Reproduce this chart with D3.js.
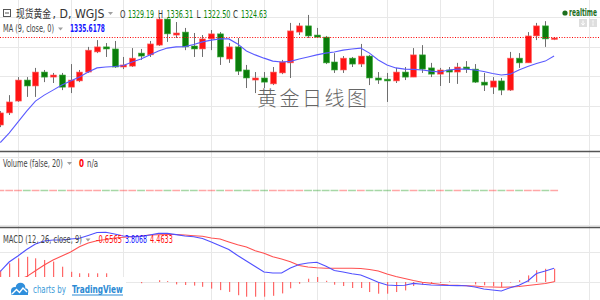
<!DOCTYPE html>
<html lang="en">
  <head>
    <meta charset="UTF-8" />
    <script src="https://cdn.jsdelivr.net/npm/d3@7"></script>
    <style>
      body { margin: 0; background: #fff; }
      svg text { font-family: "Liberation Sans Narrow", "DejaVu Sans Condensed", "Liberation Sans", "Noto Sans CJK SC", sans-serif; }
    </style>
  </head>
  <body>
    <div id="fig"></div>
    <script>
      const width = 600, height = 300;

      // daily candles
      const open = [1303.5, 1307.6, 1311.6, 1318.7, 1316.7, 1321.4, 1319.7, 1320.4, 1316.3, 1318.4,
        1321.4, 1328.2, 1329.9, 1329.2, 1323.1, 1323.4, 1327.8, 1327.2, 1330.5, 1339.3,
        1333.9, 1334.9, 1330.2, 1329.2, 1332.6, 1334.3, 1325.8, 1329.9, 1322.1, 1318.7,
        1319.4, 1317.4, 1321.1, 1324.5, 1334.9, 1337.0, 1333.9, 1333.2, 1324.8, 1322.1,
        1326.1, 1324.1, 1326.8, 1319.4, 1319.0, 1318.4, 1321.4, 1319.7, 1327.2, 1322.8,
        1320.7, 1322.1, 1321.4, 1323.1, 1322.4, 1318.0, 1316.3, 1318.4, 1315.3, 1326.1,
        1324.5, 1333.6, 1337.0, 1332.6];
      const high = [1308.2, 1313.6, 1319.7, 1319.7, 1322.8, 1322.1, 1321.1, 1321.1, 1324.1, 1322.1,
        1329.9, 1332.2, 1331.2, 1331.9, 1326.5, 1329.5, 1329.2, 1331.9, 1340.0, 1339.6,
        1338.3, 1336.3, 1334.6, 1333.9, 1335.6, 1334.9, 1331.2, 1332.9, 1323.8, 1321.4,
        1321.4, 1323.1, 1325.5, 1338.0, 1338.0, 1340.7, 1336.3, 1333.6, 1327.8, 1326.8,
        1326.5, 1330.9, 1327.2, 1321.4, 1321.1, 1322.8, 1323.1, 1329.5, 1330.5, 1324.5,
        1322.8, 1323.1, 1324.5, 1325.1, 1324.1, 1321.1, 1319.7, 1319.4, 1328.2, 1327.8,
        1334.9, 1338.0, 1338.6, 1333.2];
      const low = [1302.8, 1306.9, 1311.3, 1313.0, 1313.0, 1318.0, 1317.7, 1315.3, 1314.3, 1318.0,
        1321.1, 1327.8, 1326.5, 1322.8, 1322.4, 1323.1, 1325.5, 1326.5, 1330.2, 1331.6,
        1332.9, 1328.8, 1326.5, 1326.5, 1328.8, 1323.8, 1324.5, 1320.4, 1316.0, 1314.3,
        1316.0, 1317.0, 1320.7, 1319.4, 1333.9, 1332.9, 1333.2, 1324.1, 1321.1, 1321.1,
        1323.1, 1323.1, 1317.0, 1317.4, 1311.3, 1317.7, 1318.7, 1319.7, 1321.1, 1319.7,
        1316.7, 1317.7, 1317.4, 1321.1, 1317.7, 1315.0, 1314.0, 1313.6, 1315.0, 1322.8,
        1324.5, 1332.2, 1329.9, 1332.2];
      const close = [1307.6, 1311.3, 1318.7, 1316.7, 1321.4, 1319.7, 1320.4, 1316.3, 1318.7, 1321.4,
        1328.8, 1329.9, 1329.2, 1323.1, 1323.8, 1326.1, 1326.8, 1330.9, 1339.3, 1334.3,
        1334.6, 1329.9, 1329.2, 1332.6, 1334.3, 1326.5, 1329.9, 1321.7, 1319.4, 1319.4,
        1318.0, 1321.4, 1324.8, 1335.3, 1337.0, 1333.6, 1333.2, 1324.5, 1322.1, 1326.1,
        1324.1, 1326.8, 1319.4, 1318.7, 1318.4, 1321.4, 1319.7, 1327.2, 1322.4, 1320.7,
        1322.1, 1321.4, 1323.1, 1322.4, 1318.0, 1317.0, 1318.4, 1315.3, 1326.1, 1324.5,
        1333.6, 1337.0, 1332.6, 1332.9];

      // MA (9) as drawn
      const ma9 = [1297.6, 1300.8, 1304.5, 1308.2, 1311.6, 1313.6, 1315.3, 1317.0, 1318.4, 1319.7,
        1321.4, 1322.8, 1323.1, 1323.3, 1323.6, 1324.8, 1325.8, 1327.2, 1328.5, 1329.5,
        1329.9, 1330.0, 1330.7, 1331.6, 1332.2, 1332.6, 1332.6, 1330.9, 1328.5, 1327.2,
        1326.1, 1325.1, 1324.8, 1325.0, 1325.8, 1326.5, 1327.2, 1327.8, 1328.2, 1328.8,
        1329.2, 1329.5, 1327.8, 1325.5, 1323.8, 1322.8, 1322.4, 1322.3, 1322.1, 1321.7,
        1321.4, 1322.1, 1322.4, 1322.4, 1322.1, 1321.6, 1320.9, 1320.4, 1320.7, 1322.1,
        1323.3, 1324.3, 1325.1, 1326.8];

      // volume is n/a -> zero everywhere
      const volume = [0, 0, 0, 0, 0, 0, 0, 0, 0, 0, 0, 0, 0, 0, 0, 0, 0, 0, 0, 0, 0, 0,
        0, 0, 0, 0, 0, 0, 0, 0, 0, 0, 0, 0, 0, 0, 0, 0, 0, 0, 0, 0, 0, 0,
        0, 0, 0, 0, 0, 0, 0, 0, 0, 0, 0, 0, 0, 0, 0, 0, 0, 0, 0, 0];

      // MACD (12, 26, 9)
      const macdLine = [1.75, 3.33, 4.33, 5.42, 6.33, 6.83, 7.0, 7.0, 7.17, 7.28,
        7.75, 8.25, 8.28, 8.0, 7.67, 7.55, 7.58, 7.83, 8.1, 8.1,
        7.9, 7.67, 7.55, 7.25, 6.67, 6.05, 5.42, 4.42, 3.5, 2.58,
        1.67, 1.5, 1.5, 2.33, 2.92, 3.17, 3.28, 2.67, 1.92, 1.67,
        1.37, 1.17, 0.58, -0.03, -0.5, -0.58, -0.55, -0.23, -0.38, -0.5,
        -0.55, -0.58, -0.6, -0.62, -0.83, -1.17, -1.33, -1.5, -0.95, -0.55,
        0.17, 1.42, 1.83, 2.28];
      const signalLine = [-1.2, -0.4, 0.3, 0.9, 1.87, 2.83, 3.67, 4.33, 5.0, 5.88,
        6.5, 6.88, 7.08, 7.33, 7.45, 7.55, 7.67, 7.83, 7.88, 7.92,
        7.92, 7.83, 7.72, 7.62, 7.33, 7.17, 6.67, 6.2, 5.83, 5.2,
        4.78, 4.22, 3.83, 3.38, 2.75, 2.5, 2.37, 2.3, 2.28, 2.28,
        2.28, 2.25, 2.08, 1.83, 1.33, 0.92, 0.58, 0.25, -0.03, -0.22,
        -0.38, -0.5, -0.55, -0.62, -0.67, -0.8, -0.83, -0.88, -0.83, -0.75,
        -0.58, -0.42, -0.25, 0.05];
      const macdHist = [1.9, 3.1, 3.95, 4.2, 3.95, 3.67, 3.4, 2.55, 1.7, 1.45,
        1.45, 1.45, 1.45, 0.6, 0.1, 0, -0.2, 0, 0.3, 0.15,
        -0.4, -0.5, -0.6, -0.8, -1.1, -1.35, -1.65, -2.2, -2.45, -2.45,
        -2.45, -2.3, -1.9, -1.05, -0.3, 0.55, 0.83, 0.2, -0.45, -0.67,
        -1.0, -1.0, -1.67, -1.95, -1.95, -1.67, -1.4, -0.67, -0.45, -0.3,
        -0.15, 0.1, 0, 0, -0.4, -0.55, -0.67, -0.83, -0.1, 0.3,
        1.1, 1.95, 2.2, 2.2];

      // grid positions (bar index of the time ticks, price / indicator levels)
      const gridDays = [2, 8, 14, 24, 30, 36, 44, 50, 56, 67];
      const priceTicks = [1300, 1310, 1320, 1330, 1340];
      const volTicks = [-1, 1];
      const macdTicks = [0, 5];

      const upColor = "#ff1414", downColor = "#0b7d0b";

      const svg = d3.select("#fig").append("svg")
        .attr("width", width).attr("height", height)
        .style("display", "block");

      const xScale = d3.scaleLinear().domain([0, 67]).range([0.3, 0.3 + 8.79 * 67]);
      const priceY = d3.scaleLinear().domain([1300, 1340]).range([135.4, 17]);
      const volY = d3.scaleLinear().domain([-1, 1]).range([224.5, 156.5]);
      const macdY = d3.scaleLinear().domain([0, 5]).range([282, 252]);

      const panes = { main: [0, 151], vol: [152, 227], macd: [228, 300] };

      const defs = svg.append("defs");
      Object.entries(panes).forEach(([k, [y0, y1]]) => {
        defs.append("clipPath").attr("id", "clip-" + k)
          .append("rect").attr("x", 0).attr("y", y0).attr("width", width).attr("height", y1 - y0);
      });

      // grid
      const grid = svg.append("g").attr("stroke", "#e8e8e8").attr("stroke-width", 1);
      grid.selectAll(".vgrid").data(gridDays).join("line")
        .attr("x1", (d) => Math.round(xScale(d)) + 0.5).attr("x2", (d) => Math.round(xScale(d)) + 0.5)
        .attr("y1", 0).attr("y2", height);
      const hline = (g, data, sc) => g.selectAll(null).data(data).join("line")
        .attr("x1", 0).attr("x2", width)
        .attr("y1", (d) => Math.round(sc(d)) + 0.5).attr("y2", (d) => Math.round(sc(d)) + 0.5);
      hline(grid, priceTicks, priceY);
      hline(grid, volTicks, volY);
      hline(grid, macdTicks, macdY);

      // ---- main pane
      const mainG = svg.append("g").attr("clip-path", "url(#clip-main)");
      const candles = open.map((o, i) => ({ i, o, h: high[i], l: low[i], c: close[i], up: close[i] >= o }));

      mainG.append("g").selectAll("line").data(candles).join("line")
        .attr("x1", (d) => Math.round(xScale(d.i)) + 0.5).attr("x2", (d) => Math.round(xScale(d.i)) + 0.5)
        .attr("y1", (d) => priceY(d.h)).attr("y2", (d) => priceY(d.l))
        .attr("stroke", "#6e6e6e").attr("stroke-width", 1);

      mainG.append("g").selectAll("rect").data(candles).join("rect")
        .attr("x", (d) => Math.round(xScale(d.i)) - 2.5)
        .attr("width", 6)
        .attr("y", (d) => priceY(Math.max(d.o, d.c)))
        .attr("height", (d) => Math.max(1.5, Math.abs(priceY(d.o) - priceY(d.c))))
        .attr("fill", (d) => (d.up ? upColor : downColor))
        .attr("stroke", (d) => (d.up ? "#ff6a6a" : "#3fae3f"))
        .attr("stroke-width", 0.6);

      mainG.append("path").datum(ma9)
        .attr("d", d3.line().x((d, i) => xScale(i)).y((d) => priceY(d)))
        .attr("fill", "none").attr("stroke", "#5a5aff").attr("stroke-width", 1.1);

      // last price line
      mainG.append("line")
        .attr("x1", 0).attr("x2", width)
        .attr("y1", Math.round(priceY(close[close.length - 1])) - 0.5)
        .attr("y2", Math.round(priceY(close[close.length - 1])) - 0.5)
        .attr("stroke", "#ff0000").attr("stroke-width", 1).attr("stroke-dasharray", "1,1.6");

      // watermark
      svg.append("text").text("黄金日线图")
        .attr("x", 257).attr("y", 106)
        .attr("textLength", 110).attr("lengthAdjust", "spacing")
        .style("font-family", "'Noto Sans CJK SC'")
        .style("font-weight", 200)
        .style("font-size", "20px").attr("fill", "#666");

      // ---- volume pane
      const volG = svg.append("g").attr("clip-path", "url(#clip-vol)");
      volG.selectAll("rect").data(volume).join("rect")
        .attr("x", (d, i) => xScale(i) - 3.8)
        .attr("width", 7.8)
        .attr("y", (d) => Math.min(volY(d), volY(0)) - 0.75)
        .attr("height", (d) => Math.max(1.5, Math.abs(volY(d) - volY(0))))
        .attr("fill", (d, i) => (candles[i].up ? "rgba(255,0,0,0.35)" : "rgba(0,140,0,0.35)"));

      // ---- macd pane
      const macdG = svg.append("g").attr("clip-path", "url(#clip-macd)");
      macdG.selectAll("rect").data(macdHist).join("rect")
        .attr("x", (d, i) => Math.round(xScale(i)))
        .attr("width", 1.2)
        .attr("y", (d) => Math.min(macdY(d), macdY(0)))
        .attr("height", (d) => Math.abs(macdY(d) - macdY(0)))
        .attr("fill", "#ff4d4d").attr("opacity", 0.85);
      const mline = d3.line().x((d, i) => xScale(i)).y((d) => macdY(d));
      macdG.append("path").datum(signalLine).attr("d", mline)
        .attr("fill", "none").attr("stroke", "#ff5050").attr("stroke-width", 1.1);
      macdG.append("path").datum(macdLine).attr("d", mline)
        .attr("fill", "none").attr("stroke", "#5050ff").attr("stroke-width", 1.1);

      // pane separators
      svg.append("g").attr("stroke", "#555").attr("stroke-width", 1.6)
        .selectAll("line").data([151.5, 227.5]).join("line")
        .attr("x1", 0).attr("x2", width).attr("y1", (d) => d).attr("y2", (d) => d);

      // ---- labels
      // no narrow font installed: squeeze each label horizontally to the width it has in the picture
      const label = (x, y, s, fill, size, len, weight) => {
        const t = svg.append("text").text(s)
          .attr("fill", fill).style("font-size", size + "px");
        if (weight) t.style("font-weight", weight);
        const w = t.node().getComputedTextLength();
        const sx = len && w ? len / w : 1;
        t.attr("transform", `translate(${x},${y}) scale(${sx},1)`);
        return t;
      };
      // little dropdown triangles
      const arrow = (x, y) => svg.append("path")
        .attr("d", `M${x} ${y}h5l-2.5 3z`).attr("fill", "#a0a0a0");

      // header
      svg.append("rect").attr("x", 3.5).attr("y", 9.5).attr("width", 7).attr("height", 7)
        .attr("fill", "none").attr("stroke", "#555");
      svg.append("line").attr("x1", 5).attr("x2", 9).attr("y1", 13).attr("y2", 13).attr("stroke", "#555");
      label(16, 17.5, "现货黄金", "#333", 11, 35).style("font-family", "'Noto Sans CJK SC'");
      label(52.5, 17.5, ", D, WGJS", "#333", 12, 52);
      arrow(108, 12);

      // O H L C, keys dark and values green
      const ohlc = [["O", 120, 5.5, "1329.19", 128, 26], ["H", 158, 5, "1336.31", 166.5, 26.5],
        ["L", 196.5, 4, "1322.50", 203.5, 27], ["C", 233, 5, "1324.63", 241, 26]];
      ohlc.forEach(([k, kx, klen, v, vx, len]) => {
        label(kx, 17.5, k, "#333", 10.5, klen);
        label(vx, 17.5, v, "#0a830a", 10.5, len);
      });

      label(3, 32, "MA (9, close, 0)", "#444", 10, 51);
      arrow(58, 27.5);
      label(70, 32, "1335.6178", "#1515ff", 10, 35, "bold");

      svg.append("circle").attr("cx", 565).attr("cy", 13).attr("r", 2.6).attr("fill", "#1d6f1d");
      label(569, 16, "realtime", "#1d6f1d", 10, 28, "bold");
      [579, 589].forEach((x) => svg.append("rect").attr("x", x).attr("y", 19).attr("width", 8)
        .attr("height", 8).attr("fill", "#dedede"));
      svg.append("path").attr("d", "M583 20.5v4.5M581.3 23.3l1.7 1.9 1.7-1.9")
        .attr("stroke", "#fff").attr("fill", "none").attr("stroke-width", 1);
      svg.append("path").attr("d", "M593 20.5v1.2M593 22.4v1.2M593 24.3v1.2")
        .attr("stroke", "#fff").attr("stroke-width", 1.2);

      label(3, 166.5, "Volume (false, 20)", "#444", 10, 60);
      arrow(67, 162);
      label(79, 166.5, "0", "#ff0000", 10.5, 5, "bold");
      label(87, 166.5, "n/a", "#444", 10, 11);

      label(3, 243, "MACD (12, 26, close, 9)", "#444", 10, 79);
      arrow(85.5, 238.5);
      label(96, 243, "-0.6565", "#ff1010", 10, 26);
      label(125, 243, "3.8068", "#1515ff", 10, 22);
      label(150, 243, "4.4633", "#ff1010", 10, 23);

      // TradingView logo
      svg.append("rect").attr("x", 0).attr("y", 277).attr("width", 126).attr("height", 23).attr("fill", "#fff");
      const logo = svg.append("g").attr("fill", "#2f8fdc");
      logo.append("circle").attr("cx", 15).attr("cy", 291).attr("r", 4);
      logo.append("circle").attr("cx", 20.5).attr("cy", 287.5).attr("r", 4.8);
      logo.append("circle").attr("cx", 25).attr("cy", 291.5).attr("r", 3.3);
      logo.append("rect").attr("x", 11.5).attr("y", 291).attr("width", 16.5).attr("height", 4);
      svg.append("polyline").attr("points", "12,294 16.5,289.5 19.5,292.5 23,288 27,292")
        .attr("fill", "none").attr("stroke", "#fff").attr("stroke-width", 1.4);
      label(33, 292.5, "charts by", "#3a9ad9", 11, 33);
      label(72, 292.5, "TradingView", "#2c8ad4", 11, 51, "bold");
      svg.append("line").attr("x1", 72).attr("x2", 123).attr("y1", 295).attr("y2", 295)
        .attr("stroke", "#2c8ad4").attr("stroke-width", 1);
    </script>
  </body>
</html>
